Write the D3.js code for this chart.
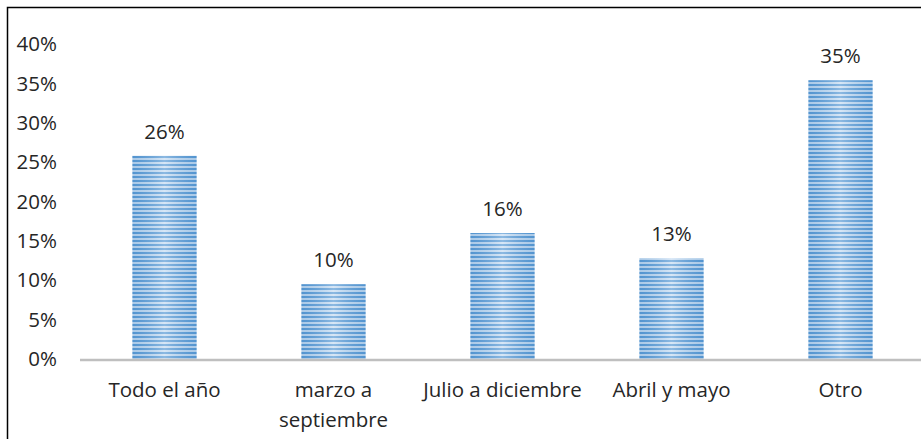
<!DOCTYPE html>
<html>
<head>
<meta charset="utf-8">
<script src="https://cdn.jsdelivr.net/npm/d3@7"></script>
<style>
  body { margin: 0; background: #fff; }
  text { font-family: 'Open Sans', 'Liberation Sans', sans-serif; fill: #262626; }
</style>
</head>
<body>
<div id="chart"></div>
<script>
// chart data
var categories = ['Todo el año', 'marzo a\nseptiembre', 'Julio a diciembre', 'Abril y mayo', 'Otro']
var values = [0.258, 0.095, 0.16, 0.128, 0.354]
var valueLabels = ['26%', '10%', '16%', '13%', '35%']
var yTicks = [0, 0.05, 0.1, 0.15, 0.2, 0.25, 0.3, 0.35, 0.4]

var width = 921
var height = 439
var margin = { top: 44, right: -4, bottom: 80, left: 80 }
var fontSize = '20.5px'

var svg = d3
  .select('#chart')
  .append('svg')
  .attr('width', width)
  .attr('height', height)

// striped fill like the office pattern
var defs = svg.append('defs')
var grad = defs
  .append('linearGradient')
  .attr('id', 'shade')
  .attr('x1', '0%')
  .attr('x2', '100%')
grad.append('stop').attr('offset', '0%').attr('stop-color', '#2e75b6').attr('stop-opacity', 0.18)
grad.append('stop').attr('offset', '50%').attr('stop-color', '#fff').attr('stop-opacity', 0.3)
grad.append('stop').attr('offset', '100%').attr('stop-color', '#2e75b6').attr('stop-opacity', 0.18)

var pat = defs
  .append('pattern')
  .attr('id', 'stripes')
  .attr('patternUnits', 'userSpaceOnUse')
  .attr('width', 8)
  .attr('height', 4)
pat.append('rect').attr('width', 8).attr('height', 4).attr('fill', '#c6dcf2')
pat.append('rect').attr('y', 0).attr('width', 8).attr('height', 2).attr('fill', '#5b9bd5')

// border
svg
  .append('rect')
  .attr('x', 7.5)
  .attr('y', 7.5)
  .attr('width', width + 10)
  .attr('height', height)
  .attr('fill', 'none')
  .attr('stroke', '#000')
  .attr('stroke-width', 1.5)

var x = d3
  .scaleBand()
  .domain(categories)
  .range([margin.left, width - margin.right])
  .paddingInner(0.62)
  .paddingOuter(0.31)

var y = d3
  .scaleLinear()
  .domain([0, 0.4])
  .range([height - margin.bottom, margin.top])

// y labels
svg
  .append('g')
  .selectAll('text')
  .data(yTicks)
  .enter()
  .append('text')
  .attr('x', 57)
  .attr('y', function(d) { return y(d) })
  .attr('dy', '0.35em')
  .attr('text-anchor', 'end')
  .style('font-size', fontSize)
  .text(d3.format('.0%'))

// bars
var bars = svg.append('g')
bars
  .selectAll('rect.bar')
  .data(values)
  .enter()
  .append('rect')
  .attr('class', 'bar')
  .attr('x', function(d, i) { return x(categories[i]) })
  .attr('y', function(d) { return y(d) })
  .attr('width', x.bandwidth())
  .attr('height', function(d) { return y(0) - y(d) })
  .attr('fill', 'url(#stripes)')
bars
  .selectAll('rect.shade')
  .data(values)
  .enter()
  .append('rect')
  .attr('class', 'shade')
  .attr('x', function(d, i) { return x(categories[i]) })
  .attr('y', function(d) { return y(d) })
  .attr('width', x.bandwidth())
  .attr('height', function(d) { return y(0) - y(d) })
  .attr('fill', 'url(#shade)')

// axis line
svg
  .append('line')
  .attr('x1', margin.left)
  .attr('x2', width)
  .attr('y1', y(0) + 1)
  .attr('y2', y(0) + 1)
  .attr('stroke', '#bfbfbf')
  .attr('stroke-width', 2.5)

// value labels
svg
  .append('g')
  .selectAll('text')
  .data(values)
  .enter()
  .append('text')
  .attr('x', function(d, i) { return x(categories[i]) + x.bandwidth() / 2 })
  .attr('y', function(d) { return y(d) - 17 })
  .attr('text-anchor', 'middle')
  .style('font-size', fontSize)
  .text(function(d, i) { return valueLabels[i] })

// category labels
var cat = svg
  .append('g')
  .selectAll('text')
  .data(categories)
  .enter()
  .append('text')
  .attr('x', function(d) { return x(d) + x.bandwidth() / 2 })
  .attr('y', y(0) + 38)
  .attr('text-anchor', 'middle')
  .style('font-size', fontSize)
cat
  .selectAll('tspan')
  .data(function(d) { return d.split('\n') })
  .enter()
  .append('tspan')
  .attr('x', function() { return d3.select(this.parentNode).attr('x') })
  .attr('dy', function(d, i) { return i ? 30 : 0 })
  .text(function(d) { return d })
</script>
</body>
</html>
